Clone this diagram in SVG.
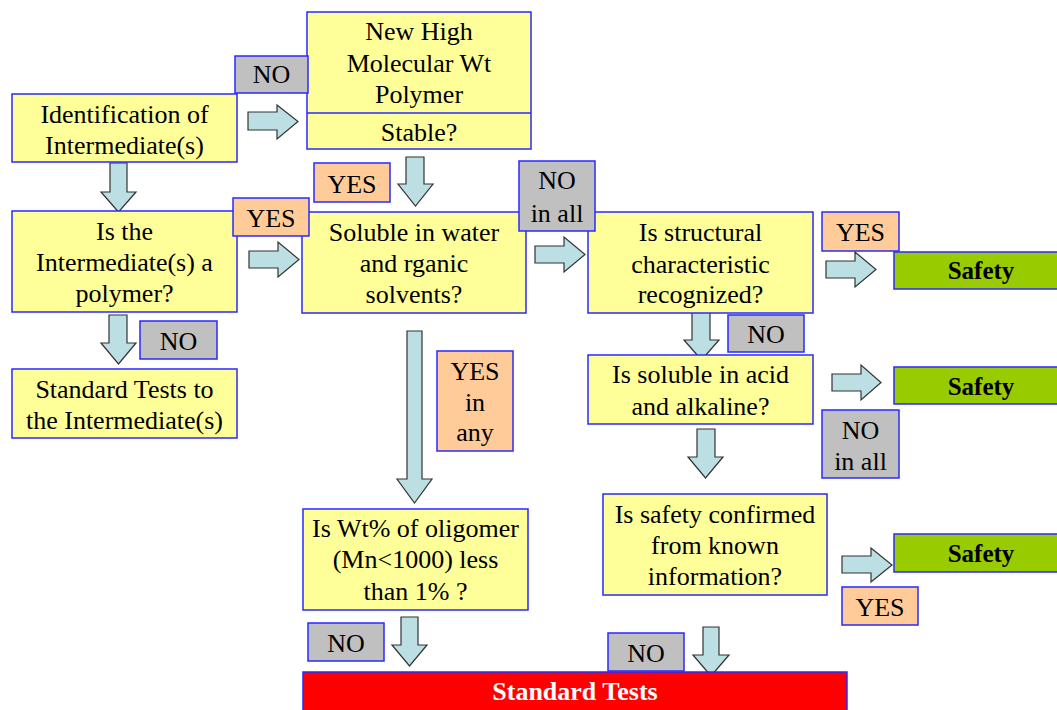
<svg xmlns="http://www.w3.org/2000/svg" width="1057" height="710" viewBox="0 0 1057 710">
<rect width="1057" height="710" fill="#ffffff"/>

<g id="connectors" fill="#bbdfe3" stroke="#333333" stroke-width="1.2">
<path d="M248,112 H277 V105 L298,121.5 L277,139 V130 H248 Z"/>
<path d="M249,251 H278 V242 L299,259.5 L278,277 V268 H249 Z"/>
<path d="M535,246 H564 V237 L585,254.5 L564,272 V263 H535 Z"/>
<path d="M826,261 H855 V252 L876,269.5 L855,287 V278 H826 Z"/>
<path d="M832,374 H861 V365 L881,382.5 L861,400 V391 H832 Z"/>
<path d="M842,556 H871 V548 L892,565 L871,582 V573 H842 Z"/>
<path d="M110,163 V192 H101 L118.5,212 L136,192 H127 V163 Z"/>
<path d="M109,315 V343 H101 L118.5,364 L136,343 H127 V315 Z"/>
<path d="M406,157 V184 H398 L415.5,206 L433,184 H424 V157 Z"/>
<path d="M407,331 V479 H397 L414.5,503 L432,479 H422 V331 Z"/>
<path d="M401,617 V645 H392 L409.5,666 L427,645 H418 V617 Z"/>
<path d="M692,311 V340 H684 L701.5,360 L719,340 H710 V311 Z"/>
<path d="M697,429 V457 H688 L705.5,478 L723,457 H715 V429 Z"/>
<path d="M703,627 V655 H693 L711,676 L729,655 H719 V627 Z"/>
</g>

<g font-family="Liberation Serif" font-size="26">

<g id="n_ident">
<rect x="12" y="94" width="225" height="68" fill="#ffff99" stroke="#2a2aff" stroke-width="1.5"/>
<text x="124.5" y="123" text-anchor="middle">Identification of</text>
<text x="124.5" y="154" text-anchor="middle">Intermediate(s)</text>
</g>

<g id="n_newpoly">
<rect x="307" y="12" width="224" height="137" fill="#ffff99" stroke="#2a2aff" stroke-width="1.5"/>
<line x1="307" y1="113" x2="531" y2="113" stroke="#2a2aff" stroke-width="1.5"/>
<text x="419" y="40" text-anchor="middle">New High</text>
<text x="419" y="72" text-anchor="middle">Molecular Wt</text>
<text x="419" y="103" text-anchor="middle">Polymer</text>
<text x="419" y="141" text-anchor="middle">Stable?</text>
</g>

<g id="n_ispoly">
<rect x="12" y="211" width="225" height="101" fill="#ffff99" stroke="#2a2aff" stroke-width="1.5"/>
<text x="124.5" y="240" text-anchor="middle">Is the</text>
<text x="124.5" y="271" text-anchor="middle">Intermediate(s) a</text>
<text x="124.5" y="302" text-anchor="middle">polymer?</text>
</g>

<g id="n_soluble">
<rect x="302" y="212" width="224" height="101" fill="#ffff99" stroke="#2a2aff" stroke-width="1.5"/>
<text x="414" y="241" text-anchor="middle">Soluble in water</text>
<text x="414" y="272" text-anchor="middle">and rganic</text>
<text x="414" y="303" text-anchor="middle">solvents?</text>
</g>

<g id="n_struct">
<rect x="588" y="212" width="225" height="101" fill="#ffff99" stroke="#2a2aff" stroke-width="1.5"/>
<text x="700.5" y="241" text-anchor="middle">Is structural</text>
<text x="700.5" y="273" text-anchor="middle">characteristic</text>
<text x="700.5" y="303" text-anchor="middle">recognized?</text>
</g>

<g id="n_acid">
<rect x="588" y="355" width="225" height="69" fill="#ffff99" stroke="#2a2aff" stroke-width="1.5"/>
<text x="700.5" y="383" text-anchor="middle">Is soluble in acid</text>
<text x="700.5" y="415" text-anchor="middle">and alkaline?</text>
</g>

<g id="n_std1">
<rect x="12" y="369" width="225" height="69" fill="#ffff99" stroke="#2a2aff" stroke-width="1.5"/>
<text x="124.5" y="398" text-anchor="middle">Standard Tests to</text>
<text x="124.5" y="429" text-anchor="middle">the Intermediate(s)</text>
</g>

<g id="n_oligomer">
<rect x="303" y="509" width="225" height="101" fill="#ffff99" stroke="#2a2aff" stroke-width="1.5"/>
<text x="415.5" y="537" text-anchor="middle">Is Wt% of oligomer</text>
<text x="415.5" y="568" text-anchor="middle">(Mn&lt;1000) less</text>
<text x="415.5" y="600" text-anchor="middle">than 1% ?</text>
</g>

<g id="n_known">
<rect x="603" y="494" width="224" height="101" fill="#ffff99" stroke="#2a2aff" stroke-width="1.5"/>
<text x="715" y="523" text-anchor="middle">Is safety confirmed</text>
<text x="715" y="554" text-anchor="middle">from known</text>
<text x="715" y="585" text-anchor="middle">information?</text>
</g>

<g id="n_safety1">
<rect x="894" y="252" width="175" height="37" fill="#99cc00" stroke="#2a2aff" stroke-width="1.5"/>
<text x="981" y="279" text-anchor="middle" font-weight="bold" font-size="25">Safety</text>
</g>
<g id="n_safety2">
<rect x="894" y="367" width="175" height="37" fill="#99cc00" stroke="#2a2aff" stroke-width="1.5"/>
<text x="981" y="395" text-anchor="middle" font-weight="bold" font-size="25">Safety</text>
</g>
<g id="n_safety3">
<rect x="894" y="534" width="175" height="38" fill="#99cc00" stroke="#2a2aff" stroke-width="1.5"/>
<text x="981" y="562" text-anchor="middle" font-weight="bold" font-size="25">Safety</text>
</g>

<g id="n_stdtests">
<rect x="303" y="672" width="544" height="45" fill="#ff0000" stroke="#2a2aff" stroke-width="1.5"/>
<text x="575" y="700" text-anchor="middle" font-weight="bold" fill="#ffffff">Standard Tests</text>
</g>

<g id="l_no1">
<rect x="235" y="56" width="73" height="37" fill="#c0c0c0" stroke="#2a2aff" stroke-width="1.5"/>
<text x="271.5" y="83" text-anchor="middle">NO</text>
</g>
<g id="l_yes1">
<rect x="233" y="198" width="76" height="38" fill="#ffcc99" stroke="#2a2aff" stroke-width="1.5"/>
<text x="271" y="227" text-anchor="middle">YES</text>
</g>
<g id="l_yes2">
<rect x="314" y="163" width="76" height="39" fill="#ffcc99" stroke="#2a2aff" stroke-width="1.5"/>
<text x="352" y="193" text-anchor="middle">YES</text>
</g>
<g id="l_noall1">
<rect x="519" y="161" width="76" height="70" fill="#c0c0c0" stroke="#2a2aff" stroke-width="1.5"/>
<text x="557" y="189" text-anchor="middle">NO</text>
<text x="557" y="222" text-anchor="middle">in all</text>
</g>
<g id="l_yes3">
<rect x="822" y="212" width="77" height="39" fill="#ffcc99" stroke="#2a2aff" stroke-width="1.5"/>
<text x="860.5" y="241" text-anchor="middle">YES</text>
</g>
<g id="l_no2">
<rect x="728" y="315" width="76" height="37" fill="#c0c0c0" stroke="#2a2aff" stroke-width="1.5"/>
<text x="766" y="343" text-anchor="middle">NO</text>
</g>
<g id="l_noall2">
<rect x="822" y="410" width="77" height="68" fill="#c0c0c0" stroke="#2a2aff" stroke-width="1.5"/>
<text x="860.5" y="439" text-anchor="middle">NO</text>
<text x="860.5" y="470" text-anchor="middle">in all</text>
</g>
<g id="l_no3">
<rect x="140" y="321" width="77" height="38" fill="#c0c0c0" stroke="#2a2aff" stroke-width="1.5"/>
<text x="178.5" y="350" text-anchor="middle">NO</text>
</g>
<g id="l_yesany">
<rect x="437" y="351" width="76" height="100" fill="#ffcc99" stroke="#2a2aff" stroke-width="1.5"/>
<text x="475" y="380" text-anchor="middle">YES</text>
<text x="475" y="411" text-anchor="middle">in</text>
<text x="475" y="441" text-anchor="middle">any</text>
</g>
<g id="l_no4">
<rect x="308" y="623" width="76" height="38" fill="#c0c0c0" stroke="#2a2aff" stroke-width="1.5"/>
<text x="346" y="652" text-anchor="middle">NO</text>
</g>
<g id="l_yes4">
<rect x="842" y="587" width="76" height="38" fill="#ffcc99" stroke="#2a2aff" stroke-width="1.5"/>
<text x="880" y="616" text-anchor="middle">YES</text>
</g>
<g id="l_no5">
<rect x="608" y="633" width="76" height="38" fill="#c0c0c0" stroke="#2a2aff" stroke-width="1.5"/>
<text x="646" y="662" text-anchor="middle">NO</text>
</g>
</g>
</svg>
